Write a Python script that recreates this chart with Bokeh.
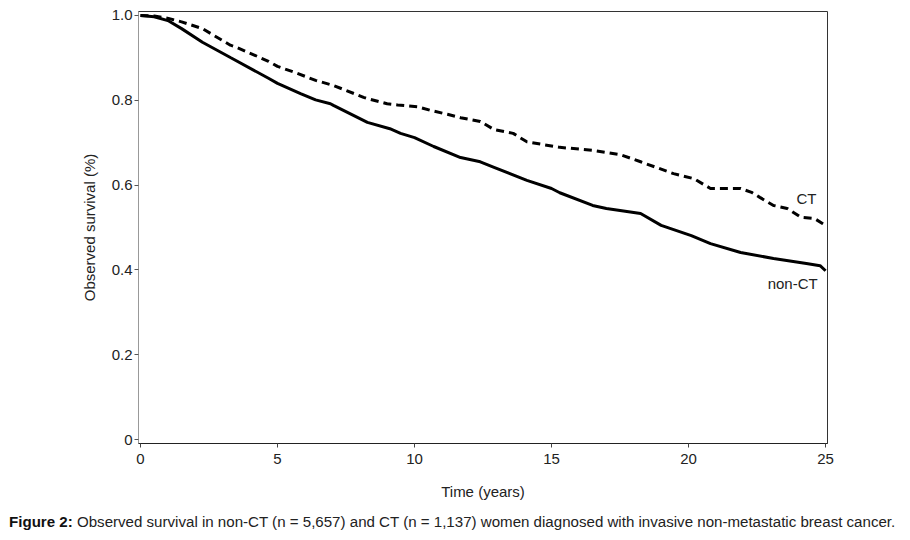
from bokeh.plotting import figure
from bokeh.models import Range1d, FixedTicker, CustomJSTickFormatter, Label, Div
from bokeh.layouts import column
from bokeh.embed import file_html
from bokeh.resources import INLINE

# ---- data ----
non_ct_time = [0, 0.5, 1.0, 1.5, 2.26, 3.28, 4.67, 5.0, 5.84, 6.39, 6.93, 7.04, 8.28,
               9.1, 9.49, 10.0, 10.7, 11.68, 12.4, 12.9, 14.1, 15.0, 15.3, 16.5, 17.0,
               18.25, 19.0, 20.1, 20.8, 21.9, 23.1, 24.3, 24.8, 25.0]
non_ct_surv = [1.0, 0.997, 0.988, 0.969, 0.937, 0.901, 0.852, 0.840, 0.816, 0.801, 0.792, 0.788, 0.748,
               0.733, 0.722, 0.712, 0.691, 0.665, 0.655, 0.642, 0.611, 0.592, 0.582, 0.552, 0.545,
               0.533, 0.505, 0.481, 0.462, 0.441, 0.427, 0.415, 0.410, 0.398]

ct_time = [0, 0.5, 1.02, 1.5, 2.26, 3.28, 3.47, 4.67, 5.0, 5.66, 6.39, 7.04, 8.14, 8.28, 9.0,
           9.38, 10.1, 10.6, 11.2, 11.68, 12.4, 12.9, 13.6, 14.1, 15.3, 16.5, 17.5, 18.25,
           19.45, 20.2, 20.8, 21.9, 22.3, 22.6, 23.1, 23.6, 24.1, 24.6, 24.9, 25.0]
ct_surv = [1.0, 0.999, 0.993, 0.985, 0.969, 0.930, 0.926, 0.892, 0.880, 0.865, 0.847, 0.835, 0.807, 0.804, 0.792,
           0.789, 0.785, 0.776, 0.767, 0.759, 0.750, 0.731, 0.722, 0.702, 0.689, 0.682, 0.672, 0.655,
           0.627, 0.615, 0.592, 0.592, 0.583, 0.571, 0.552, 0.545, 0.524, 0.521, 0.509, 0.505]

x_ticks = [0, 5, 10, 15, 20, 25]
y_ticks = [0, 0.2, 0.4, 0.6, 0.8, 1.0]

caption_bold = "Figure 2:"
caption_text = ("Observed survival in non-CT (n = 5,657) and CT (n = 1,137) women "
                "diagnosed with invasive non-metastatic breast cancer.")

FONT = "Liberation Sans"
TXT = "#222222"

p = figure(width=902, height=500, output_backend="svg", toolbar_location=None,
           x_range=Range1d(-0.073, 25.07), y_range=Range1d(-0.0094, 1.0094),
           min_border_left=138, min_border_right=75, min_border_top=11, min_border_bottom=57)
p.frame_width = 689
p.frame_height = 432

p.xgrid.visible = False
p.ygrid.visible = False
p.outline_line_color = "#333333"
p.outline_line_width = 1
p.background_fill_color = "white"
p.border_fill_color = "white"

p.line(non_ct_time, non_ct_surv, line_color="black", line_width=3)
p.line(ct_time, ct_surv, line_color="black", line_width=3, line_dash="8 5")

# axes
xa = p.xaxis[0]
xa.ticker = FixedTicker(ticks=x_ticks)
xa.minor_tick_line_color = None
xa.major_tick_in = 0
xa.major_tick_out = 4
xa.axis_line_color = "#222222"
xa.major_tick_line_color = "#444444"
xa.major_label_text_font = FONT
xa.major_label_text_font_size = "15px"
xa.major_label_text_color = TXT
xa.major_label_standoff = 6
xa.axis_label = "Time (years)"
xa.axis_label_text_font = FONT
xa.axis_label_text_font_size = "15px"
xa.axis_label_text_font_style = "normal"
xa.axis_label_text_color = TXT
xa.axis_label_standoff = 16

ya = p.yaxis[0]
ya.ticker = FixedTicker(ticks=y_ticks)
ya.formatter = CustomJSTickFormatter(code="return tick == 0 ? '0' : tick.toFixed(1);")
ya.minor_tick_line_color = None
ya.major_tick_in = 0
ya.major_tick_out = 4
ya.axis_line_color = "#999999"
ya.major_tick_line_color = "#555555"
ya.major_label_text_font = FONT
ya.major_label_text_font_size = "15px"
ya.major_label_text_color = TXT
ya.major_label_standoff = 2
ya.axis_label = "Observed survival (%)"
ya.axis_label_text_font = FONT
ya.axis_label_text_font_size = "15px"
ya.axis_label_text_font_style = "normal"
ya.axis_label_text_color = TXT
ya.axis_label_standoff = 11

# curve labels
p.add_layout(Label(x=24.3, y=0.568, text="CT", text_align="center", text_baseline="middle",
                   text_font=FONT, text_font_size="15px", text_color=TXT))
p.add_layout(Label(x=23.8, y=0.368, text="non-CT", text_align="center", text_baseline="middle",
                   text_font=FONT, text_font_size="15px", text_color=TXT))

# caption
cap = Div(width=906, height=40,
          text=('<div style="font-family:\'Liberation Sans\',Arial,sans-serif;font-size:15.1px;'
                'line-height:18px;color:#222;margin-left:4px;margin-top:6px;white-space:nowrap;">'
                '<b style="color:#111">' + caption_bold + '</b> ' + caption_text + '</div>'))

layout = column(p, cap, spacing=0)
open("out.html", "w").write(file_html(layout, INLINE))
